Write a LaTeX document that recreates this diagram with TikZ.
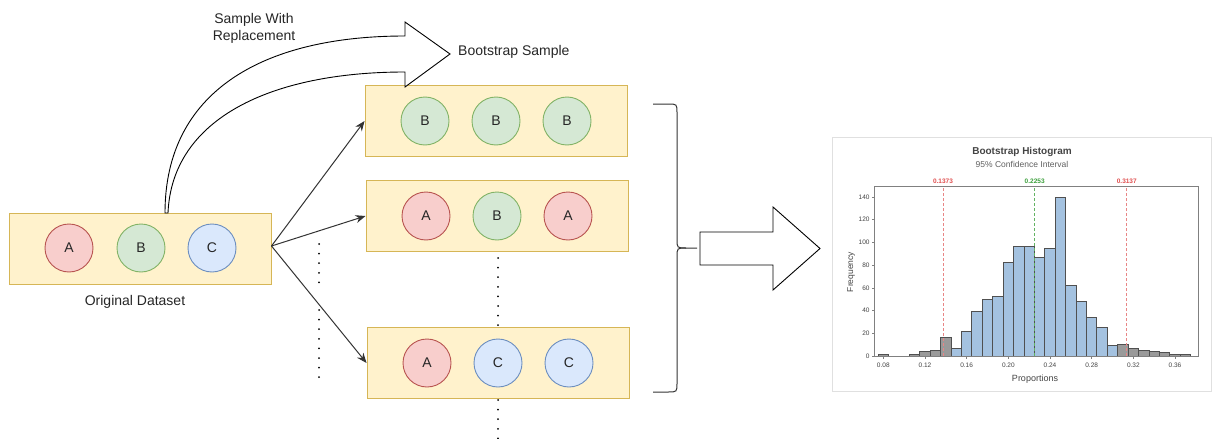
\documentclass[tikz,border=0pt]{standalone}
\usepackage{fontspec}
\setmainfont{Liberation Sans}
\usetikzlibrary{arrows.meta}
\definecolor{boxfill}{HTML}{FFF2CC}
\definecolor{boxline}{HTML}{D6B656}
\definecolor{redfill}{HTML}{F8CECC}
\definecolor{redline}{HTML}{B85450}
\definecolor{greenfill}{HTML}{D5E8D4}
\definecolor{greenline}{HTML}{82B366}
\definecolor{bluefill}{HTML}{DAE8FC}
\definecolor{blueline}{HTML}{6C8EBF}
\definecolor{barblue}{HTML}{A4C2E0}
\definecolor{bargray}{HTML}{9A9A9A}
\definecolor{baredge}{HTML}{505050}
\definecolor{cired}{HTML}{E05050}
\definecolor{cigreen}{HTML}{3CA03C}
\definecolor{txtgray}{HTML}{444444}
\tikzset{
  databox/.style={draw=boxline, fill=boxfill, line width=0.9pt, minimum width=262pt, minimum height=71pt, inner sep=0pt},
  ball/.style={circle, minimum size=48pt, inner sep=0pt, line width=0.9pt, font=\fontsize{14}{16}\selectfont, text=black!85},
  ballA/.style={ball, draw=redline, fill=redfill},
  ballB/.style={ball, draw=greenline, fill=greenfill},
  ballC/.style={ball, draw=blueline, fill=bluefill},
  conn/.style={draw=black!80, line width=1pt, -{Stealth[length=10pt,width=8pt]}},
  dotline/.style={line width=2pt, dash pattern=on 0pt off 9.6pt, line cap=round},
  lbl/.style={font=\fontsize{14}{17}\selectfont, text=black!85, inner sep=0pt, align=center},
  outline/.style={draw=black, line width=0.9pt, line join=miter},
  histbar/.style={draw=baredge, line width=0.9pt},
  ticklbl/.style={font=\fontsize{6.5}{7}\selectfont, text=txtgray, inner sep=0pt},
}
\begin{document}
\begin{tikzpicture}[x=1pt,y=-1pt]
\useasboundingbox (0,0) rectangle (1219,439);
\fill[white] (0,0) rectangle (1219,439);

% original dataset
\node[databox] (orig) at (140.5,248.5) {};
\node[ballA] (oa) at (69,248) {A};
\node[ballB] (ob) at (141,248) {B};
\node[ballC] (oc) at (212,248) {C};
\node[lbl] (origlbl) at (135,302) {Original Dataset};

% bootstrap samples
\node[databox] (s1) at (496,121) {};
\node[ballB] (s1a) at (425,121) {B};
\node[ballB] (s1b) at (496,121) {B};
\node[ballB] (s1c) at (567,121) {B};

\node[databox] (s2) at (497,216) {};
\node[ballA] (s2a) at (426,216) {A};
\node[ballB] (s2b) at (497,216) {B};
\node[ballA] (s2c) at (568,216) {A};

\node[databox] (s3) at (498,363) {};
\node[ballA] (s3a) at (427,363) {A};
\node[ballC] (s3b) at (498,363) {C};
\node[ballC] (s3c) at (569,363) {C};

% connectors
\coordinate (fan) at (271.5,246);
\draw[conn] (fan) -- (s1.west);
\draw[conn] (fan) -- (s2.west);
\draw[conn] (fan) -- (s3.west);

% dotted lines
\coordinate (d1a) at (319,244); \coordinate (d1b) at (319,284);
\coordinate (d2a) at (319,310); \coordinate (d2b) at (319,380);
\coordinate (d3a) at (498,258); \coordinate (d3b) at (498,326);
\coordinate (d4a) at (498,400); \coordinate (d4b) at (498,439);
\draw[dotline] (d1a) -- (d1b);
\draw[dotline] (d2a) -- (d2b);
\draw[dotline] (d3a) -- (d3b);
\draw[dotline] (d4a) -- (d4b);

% curved flex arrow
\draw[outline, fill=white] (165,213) .. controls (165,92) and (262,36) .. (405,36)
  -- (405,22) -- (450,54) -- (405,87) -- (405,72)
  .. controls (272,72) and (172,118) .. (168,213) -- cycle;
\node[lbl] (swr) at (254,28) {Sample With\\Replacement};
\node[lbl, anchor=west] (bslbl) at (458,52) {Bootstrap Sample};

% brace
\draw[draw=black!80, line width=1pt] (653,104) -- (668,104) .. controls (677,104) .. (677,113) -- (677,239)
  .. controls (677,248) .. (686,248) -- (697,248);
\draw[draw=black!80, line width=1pt] (686,248) .. controls (677,248) .. (677,257) -- (677,383)
  .. controls (677,392) .. (668,392) -- (653,392);

% block arrow
\draw[outline, fill=white] (700,232) -- (773,232) -- (773,207) -- (820,248.5) -- (773,290) -- (773,265) -- (700,265) -- cycle;

% histogram panel
\draw[draw=black!12, line width=0.8pt, fill=white] (832,137) rectangle (1211,391);
\node[font=\fontsize{10}{11}\bfseries, text=txtgray, inner sep=0pt] (htitle) at (1022,152) {Bootstrap Histogram};
\node[font=\fontsize{8.5}{9}\selectfont, text=txtgray!85, inner sep=0pt] (hsub) at (1022,164) {95\% Confidence Interval};
\node[font=\fontsize{9}{10}\selectfont, text=txtgray, inner sep=0pt] (hx) at (1035,379) {Proportions};
\node[font=\fontsize{8.5}{9}\selectfont, text=txtgray, inner sep=0pt, rotate=90] (hy) at (851,272) {Frequency};

\begin{scope}[xshift=883.3pt, yshift=-356pt, x=10.418pt, y=1.136pt]
  % blue bars
  \foreach \k/\c in {7/7,8/22,9/39,10/50,11/52,12/82,13/96,14/96,15/87,16/95,17/140,18/62,19/48,20/34,21/25,22/9}
    \filldraw[histbar, fill=barblue] (\k-0.5,0) rectangle (\k+0.5,\c);
  % gray bars
  \foreach \k/\c in {0/1,3/1,4/4,5/5,6/16,23/10,24/7,25/5,26/4,27/3,28/1,29/1}
    \filldraw[histbar, fill=bargray] (\k-0.5,0) rectangle (\k+0.5,\c);
  % CI lines
  \draw[cired!70, line width=0.8pt, dash pattern=on 3pt off 2pt] (5.73,0) -- (5.73,149.5);
  \draw[cigreen!80, line width=0.8pt, dash pattern=on 3pt off 2pt] (14.53,0) -- (14.53,149.5);
  \draw[cired!70, line width=0.8pt, dash pattern=on 3pt off 2pt] (23.37,0) -- (23.37,149.5);
  \node[font=\fontsize{6.5}{7}\bfseries, text=cired, inner sep=0pt] (ci1) at (5.73,153.5) {0.1373};
  \node[font=\fontsize{6.5}{7}\bfseries, text=cigreen, inner sep=0pt] (ci2) at (14.53,153.5) {0.2253};
  \node[font=\fontsize{6.5}{7}\bfseries, text=cired, inner sep=0pt] (ci3) at (23.37,153.5) {0.3137};
  % frame
  \draw[draw=black!50, line width=1pt] (-0.8,0) rectangle (30.3,149.5);
  % ticks
  \foreach \k/\t in {0/0.08,4/0.12,8/0.16,12/0.20,16/0.24,20/0.28,24/0.32,28/0.36} {
    \draw[black!50, line width=0.6pt] (\k,0) -- (\k,-2.5);
    \node[ticklbl] at (\k,-8.5) {\t};
  }
  \foreach \v in {0,20,40,60,80,100,120,140} {
    \draw[black!50, line width=0.6pt] (-0.8,\v) -- (-1.1,\v);
    \node[ticklbl, anchor=east] at (-1.3,\v) {\v};
  }
\end{scope}
\end{tikzpicture}
\end{document}
